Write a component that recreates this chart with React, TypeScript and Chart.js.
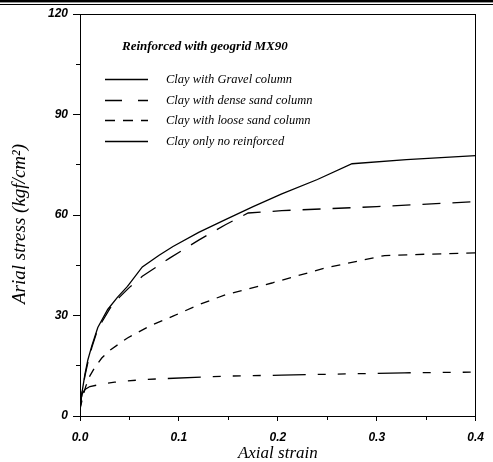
import React, { useEffect, useRef } from "react";
import { Chart, registerables } from "chart.js";

Chart.register(...registerables);

// ---- data ----
const gravelStrain = [0, 0.002, 0.005, 0.008, 0.012, 0.018, 0.028, 0.038, 0.048, 0.063, 0.08, 0.094, 0.12, 0.147, 0.175, 0.204, 0.24, 0.275, 0.33, 0.4];
const gravelStress = [2, 7, 12.5, 16.8, 21, 26.4, 31.8, 35.5, 38.7, 44.5, 48, 50.6, 54.8, 58.6, 62.5, 66.3, 70.6, 75.3, 76.5, 77.7];

const denseStrain = [0, 0.002, 0.005, 0.008, 0.012, 0.018, 0.03, 0.04, 0.05, 0.063, 0.091, 0.12, 0.147, 0.17, 0.204, 0.3, 0.4];
const denseStress = [2, 7, 12, 16, 20.5, 26, 32, 35.5, 38.4, 41.7, 47.2, 52.5, 57.1, 60.6, 61.3, 62.5, 64];

const looseStrain = [0, 0.003, 0.006, 0.01, 0.015, 0.022, 0.031, 0.048, 0.07, 0.094, 0.12, 0.147, 0.194, 0.248, 0.308, 0.35, 0.4];
const looseStress = [2, 6, 9, 12, 14.5, 17.3, 19.8, 23.3, 26.8, 29.8, 33.2, 36.2, 39.7, 44.2, 47.9, 48.3, 48.7];

const clayStrain = [0, 0.001, 0.002, 0.005, 0.01, 0.02, 0.035, 0.065, 0.147, 0.204, 0.328, 0.4];
const clayStress = [2, 5, 6.5, 7.9, 8.8, 9.4, 10.1, 10.9, 11.9, 12.2, 12.9, 13.1];

const seriesLabels = [
  "Clay with Gravel column",
  "Clay with dense sand column",
  "Clay with loose sand column",
  "Clay only no reinforced",
];
const legendTitle = "Reinforced with geogrid MX90";
const xTitle = "Axial strain";
const yTitle = "Arial stress (kgf/cm\u00B2)";
const xMajorStep = 0.1;
const xMinorStep = 0.05;
const yMajorStep = 30;
const yMinorStep = 15;

// ---- styles ----
const lineDashes: number[][] = [[], [18, 12], [9, 8], [33, 12, 8, 12, 8, 12, 8, 12]];
const legendDashes: number[][] = [[], [17, 16], [10, 8], []];

export default function App() {
  const ref = useRef<HTMLCanvasElement | null>(null);

  useEffect(() => {
    document.body.style.margin = "0";
    const canvas = ref.current;
    if (!canvas) return;

    const pts = (xs: number[], ys: number[]) => xs.map((x, i) => ({ x, y: ys[i] }));
    const series = [
      pts(gravelStrain, gravelStress),
      pts(denseStrain, denseStress),
      pts(looseStrain, looseStress),
      pts(clayStrain, clayStress),
    ];

    const decor = {
      id: "decor",
      beforeDraw(chart: any) {
        const { ctx, width, height } = chart;
        ctx.save();
        ctx.fillStyle = "#fff";
        ctx.fillRect(0, 0, width, height);
        ctx.fillStyle = "#000";
        ctx.fillRect(0, 0, width, 2.4);
        ctx.fillRect(0, 4, width, 1);
        ctx.restore();
      },
      afterDraw(chart: any) {
        const { ctx, chartArea } = chart;
        const { left, top, right, bottom } = chartArea;
        ctx.save();
        ctx.strokeStyle = "#000";
        ctx.lineWidth = 1;
        ctx.setLineDash([]);
        ctx.strokeRect(Math.round(left) + 0.5, Math.round(top) + 0.5, Math.round(right - left) - 1, Math.round(bottom - top));
        // y axis title
        ctx.fillStyle = "#000";
        ctx.save();
        ctx.translate(20, (top + bottom) / 2 + 9);
        ctx.rotate(-Math.PI / 2);
        ctx.textAlign = "center";
        ctx.textBaseline = "middle";
        ctx.font = "italic 19px 'Liberation Serif'";
        ctx.fillText(yTitle, 0, 0);
        ctx.restore();
        // legend
        ctx.textBaseline = "middle";
        ctx.textAlign = "left";
        ctx.font = "bold italic 13px 'Liberation Serif'";
        ctx.fillText(legendTitle, left + 42, top + 33);
        ctx.font = "italic 12.5px 'Liberation Serif'";
        seriesLabels.forEach((lab, i) => {
          const y = Math.round(top + 65 + i * 20.6) + 0.5;
          ctx.beginPath();
          ctx.lineWidth = 1.3;
          ctx.setLineDash(legendDashes[i]);
          ctx.moveTo(left + 25, y);
          ctx.lineTo(left + 68, y);
          ctx.stroke();
          ctx.setLineDash([]);
          ctx.fillText(lab, left + 86, y);
        });
        ctx.restore();
      },
    };

    const tickFont = { family: "'Liberation Sans'", size: 12, weight: "bold" as const, style: "italic" as const };
    const titleFont = { family: "'Liberation Serif'", size: 17, style: "italic" as const };

    const chart = new Chart(canvas, {
      type: "line",
      data: {
        datasets: series.map((data, i) => ({
          label: seriesLabels[i],
          data,
          borderColor: "#000",
          backgroundColor: "#000",
          borderWidth: 1.3,
          borderDash: lineDashes[i],
          pointRadius: 0,
          fill: false,
          tension: 0,
        })),
      },
      options: {
        responsive: false,
        animation: false,
        devicePixelRatio: 1,
        layout: { padding: { top: 14, right: 11, left: 0, bottom: 0 } },
        plugins: { legend: { display: false }, tooltip: { enabled: false }, title: { display: false } },
        scales: {
          x: {
            type: "linear",
            min: 0,
            max: 0.4,
            afterFit: (s: any) => { s.height = 46; },
            ticks: {
              stepSize: xMinorStep,
              autoSkip: false,
              maxRotation: 0,
              padding: 9,
              color: "#000",
              font: tickFont,
              callback: (v: any) => {
                const n = Math.round(Number(v) / xMinorStep);
                return n % Math.round(xMajorStep / xMinorStep) === 0 ? Number(v).toFixed(1) : "";
              },
            },
            grid: {
              display: true,
              drawOnChartArea: false,
              drawTicks: true,
              tickLength: 5,
              tickColor: "#000",
              tickWidth: 1,
              tickBorderDash: (c: any) => {
                const n = Math.round(c.tick.value / xMinorStep);
                return n % 2 === 0 ? [] : [3, 100];
              },
            },
            border: { display: true, color: "#000", width: 1 },
            title: { display: true, text: xTitle, color: "#000", font: titleFont, padding: { top: 0, bottom: -2 } },
          },
          y: {
            type: "linear",
            min: 0,
            max: 120,
            afterFit: (s: any) => { s.width = 80; },
            ticks: {
              stepSize: yMinorStep,
              autoSkip: false,
              padding: 5,
              color: "#000",
              font: tickFont,
              callback: (v: any) => {
                const n = Math.round(Number(v) / yMinorStep);
                return n % Math.round(yMajorStep / yMinorStep) === 0 ? String(Math.round(Number(v))) : "";
              },
            },
            grid: {
              display: true,
              drawOnChartArea: false,
              drawTicks: true,
              tickLength: 7,
              tickColor: "#000",
              tickWidth: 1,
              tickBorderDash: (c: any) => {
                const n = Math.round(c.tick.value / yMinorStep);
                return n % 2 === 0 ? [] : [0, 3, 4, 100];
              },
            },
            border: { display: true, color: "#000", width: 1 },
            title: { display: false },
          },
        },
      },
      plugins: [decor],
    });

    return () => chart.destroy();
  }, []);

  return (
    <div style={{ width: 493, height: 462 }}>
      <canvas ref={ref} width={493} height={462} style={{ display: "block" }} />
    </div>
  );
}
